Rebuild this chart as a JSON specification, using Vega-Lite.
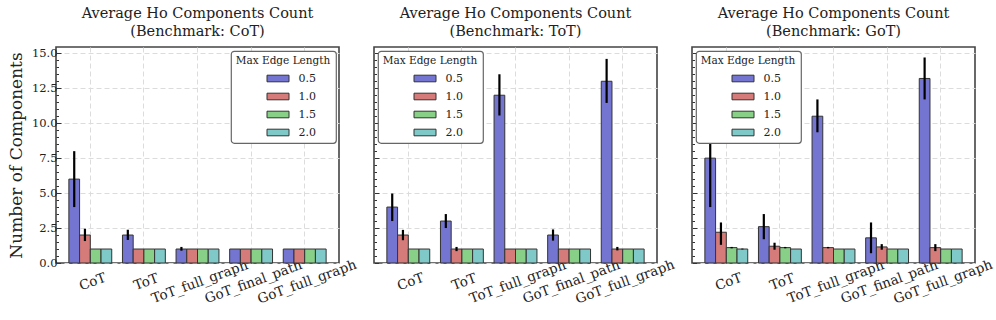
{
  "$schema": "https://vega.github.io/schema/vega-lite/v6.json",
  "autosize": {"type": "pad"},
  "padding": {"left": 6, "top": 4, "right": 5, "bottom": 5},
  "bounds": "flush",
  "spacing": 35,
  "config": {
    "font": "DejaVu Serif",
    "view": {"stroke": "#444", "strokeWidth": 1.6},
    "title": {"fontSize": 14.5, "fontWeight": "normal", "color": "#222", "offset": 8, "lineHeight": 18},
    "axis": {"domain": false, "gridColor": "#dcdcdc", "gridDash": [5, 3], "gridWidth": 1, "tickColor": "#333", "labelColor": "#222", "labelFontSize": 11.5, "titleFontWeight": "normal", "titleColor": "#222"},
    "axisX": {"title": null, "tickSize": -4, "labelAngle": -20, "labelAlign": "center", "labelBaseline": "top", "labelFontSize": 13.5, "labelPadding": 16, "grid": true},
    "legend": {
      "offset": 3.5, "padding": 5, "fillColor": "white", "strokeColor": "#666", "strokeWidth": 1.2, "cornerRadius": 3,
      "titleFontSize": 10.5, "titleFontWeight": "normal", "titleAnchor": "middle", "titleColor": "#222", "titlePadding": 6,
      "labelFontSize": 11, "labelColor": "#222", "labelOffset": 14.5,
      "symbolType": "M-2,-0.6L2,-0.6L2,0.6L-2,0.6Z", "symbolSize": 121, "symbolStrokeColor": "#333", "symbolStrokeWidth": 1, "symbolOpacity": 1, "symbolOffset": 21, "rowPadding": 6
    }
  },
  "data": {"values": [
    {"bench": "CoT", "method": "CoT", "edge": "0.5", "value": 6.0, "lo": 4.0, "hi": 8.0},
    {"bench": "CoT", "method": "CoT", "edge": "1.0", "value": 2.0, "lo": 1.57, "hi": 2.45},
    {"bench": "CoT", "method": "CoT", "edge": "1.5", "value": 1.0, "lo": 1.0, "hi": 1.0},
    {"bench": "CoT", "method": "CoT", "edge": "2.0", "value": 1.0, "lo": 1.0, "hi": 1.0},
    {"bench": "CoT", "method": "ToT", "edge": "0.5", "value": 2.0, "lo": 1.65, "hi": 2.38},
    {"bench": "CoT", "method": "ToT", "edge": "1.0", "value": 1.0, "lo": 1.0, "hi": 1.0},
    {"bench": "CoT", "method": "ToT", "edge": "1.5", "value": 1.0, "lo": 1.0, "hi": 1.0},
    {"bench": "CoT", "method": "ToT", "edge": "2.0", "value": 1.0, "lo": 1.0, "hi": 1.0},
    {"bench": "CoT", "method": "ToT_full_graph", "edge": "0.5", "value": 1.0, "lo": 0.88, "hi": 1.15},
    {"bench": "CoT", "method": "ToT_full_graph", "edge": "1.0", "value": 1.0, "lo": 1.0, "hi": 1.0},
    {"bench": "CoT", "method": "ToT_full_graph", "edge": "1.5", "value": 1.0, "lo": 1.0, "hi": 1.0},
    {"bench": "CoT", "method": "ToT_full_graph", "edge": "2.0", "value": 1.0, "lo": 1.0, "hi": 1.0},
    {"bench": "CoT", "method": "GoT_final_path", "edge": "0.5", "value": 1.0, "lo": 1.0, "hi": 1.0},
    {"bench": "CoT", "method": "GoT_final_path", "edge": "1.0", "value": 1.0, "lo": 1.0, "hi": 1.0},
    {"bench": "CoT", "method": "GoT_final_path", "edge": "1.5", "value": 1.0, "lo": 1.0, "hi": 1.0},
    {"bench": "CoT", "method": "GoT_final_path", "edge": "2.0", "value": 1.0, "lo": 1.0, "hi": 1.0},
    {"bench": "CoT", "method": "GoT_full_graph", "edge": "0.5", "value": 1.0, "lo": 1.0, "hi": 1.0},
    {"bench": "CoT", "method": "GoT_full_graph", "edge": "1.0", "value": 1.0, "lo": 1.0, "hi": 1.0},
    {"bench": "CoT", "method": "GoT_full_graph", "edge": "1.5", "value": 1.0, "lo": 1.0, "hi": 1.0},
    {"bench": "CoT", "method": "GoT_full_graph", "edge": "2.0", "value": 1.0, "lo": 1.0, "hi": 1.0},

    {"bench": "ToT", "method": "CoT", "edge": "0.5", "value": 4.0, "lo": 3.0, "hi": 4.97},
    {"bench": "ToT", "method": "CoT", "edge": "1.0", "value": 2.0, "lo": 1.63, "hi": 2.37},
    {"bench": "ToT", "method": "CoT", "edge": "1.5", "value": 1.0, "lo": 1.0, "hi": 1.0},
    {"bench": "ToT", "method": "CoT", "edge": "2.0", "value": 1.0, "lo": 1.0, "hi": 1.0},
    {"bench": "ToT", "method": "ToT", "edge": "0.5", "value": 3.0, "lo": 2.5, "hi": 3.5},
    {"bench": "ToT", "method": "ToT", "edge": "1.0", "value": 1.0, "lo": 0.85, "hi": 1.15},
    {"bench": "ToT", "method": "ToT", "edge": "1.5", "value": 1.0, "lo": 1.0, "hi": 1.0},
    {"bench": "ToT", "method": "ToT", "edge": "2.0", "value": 1.0, "lo": 1.0, "hi": 1.0},
    {"bench": "ToT", "method": "ToT_full_graph", "edge": "0.5", "value": 12.0, "lo": 10.55, "hi": 13.5},
    {"bench": "ToT", "method": "ToT_full_graph", "edge": "1.0", "value": 1.0, "lo": 1.0, "hi": 1.0},
    {"bench": "ToT", "method": "ToT_full_graph", "edge": "1.5", "value": 1.0, "lo": 1.0, "hi": 1.0},
    {"bench": "ToT", "method": "ToT_full_graph", "edge": "2.0", "value": 1.0, "lo": 1.0, "hi": 1.0},
    {"bench": "ToT", "method": "GoT_final_path", "edge": "0.5", "value": 2.0, "lo": 1.6, "hi": 2.4},
    {"bench": "ToT", "method": "GoT_final_path", "edge": "1.0", "value": 1.0, "lo": 1.0, "hi": 1.0},
    {"bench": "ToT", "method": "GoT_final_path", "edge": "1.5", "value": 1.0, "lo": 1.0, "hi": 1.0},
    {"bench": "ToT", "method": "GoT_final_path", "edge": "2.0", "value": 1.0, "lo": 1.0, "hi": 1.0},
    {"bench": "ToT", "method": "GoT_full_graph", "edge": "0.5", "value": 13.0, "lo": 11.45, "hi": 14.6},
    {"bench": "ToT", "method": "GoT_full_graph", "edge": "1.0", "value": 1.0, "lo": 0.9, "hi": 1.15},
    {"bench": "ToT", "method": "GoT_full_graph", "edge": "1.5", "value": 1.0, "lo": 1.0, "hi": 1.0},
    {"bench": "ToT", "method": "GoT_full_graph", "edge": "2.0", "value": 1.0, "lo": 1.0, "hi": 1.0},

    {"bench": "GoT", "method": "CoT", "edge": "0.5", "value": 7.5, "lo": 4.0, "hi": 11.0},
    {"bench": "GoT", "method": "CoT", "edge": "1.0", "value": 2.2, "lo": 1.3, "hi": 2.9},
    {"bench": "GoT", "method": "CoT", "edge": "1.5", "value": 1.1, "lo": 1.05, "hi": 1.15},
    {"bench": "GoT", "method": "CoT", "edge": "2.0", "value": 1.0, "lo": 0.97, "hi": 1.03},
    {"bench": "GoT", "method": "ToT", "edge": "0.5", "value": 2.6, "lo": 1.7, "hi": 3.5},
    {"bench": "GoT", "method": "ToT", "edge": "1.0", "value": 1.2, "lo": 0.95, "hi": 1.45},
    {"bench": "GoT", "method": "ToT", "edge": "1.5", "value": 1.1, "lo": 1.05, "hi": 1.15},
    {"bench": "GoT", "method": "ToT", "edge": "2.0", "value": 1.0, "lo": 1.0, "hi": 1.0},
    {"bench": "GoT", "method": "ToT_full_graph", "edge": "0.5", "value": 10.5, "lo": 9.35, "hi": 11.7},
    {"bench": "GoT", "method": "ToT_full_graph", "edge": "1.0", "value": 1.1, "lo": 1.05, "hi": 1.15},
    {"bench": "GoT", "method": "ToT_full_graph", "edge": "1.5", "value": 1.0, "lo": 1.0, "hi": 1.0},
    {"bench": "GoT", "method": "ToT_full_graph", "edge": "2.0", "value": 1.0, "lo": 1.0, "hi": 1.0},
    {"bench": "GoT", "method": "GoT_final_path", "edge": "0.5", "value": 1.8, "lo": 0.7, "hi": 2.9},
    {"bench": "GoT", "method": "GoT_final_path", "edge": "1.0", "value": 1.15, "lo": 0.95, "hi": 1.35},
    {"bench": "GoT", "method": "GoT_final_path", "edge": "1.5", "value": 1.0, "lo": 1.0, "hi": 1.0},
    {"bench": "GoT", "method": "GoT_final_path", "edge": "2.0", "value": 1.0, "lo": 1.0, "hi": 1.0},
    {"bench": "GoT", "method": "GoT_full_graph", "edge": "0.5", "value": 13.2, "lo": 11.7, "hi": 14.7},
    {"bench": "GoT", "method": "GoT_full_graph", "edge": "1.0", "value": 1.1, "lo": 0.85, "hi": 1.35},
    {"bench": "GoT", "method": "GoT_full_graph", "edge": "1.5", "value": 1.0, "lo": 1.0, "hi": 1.0},
    {"bench": "GoT", "method": "GoT_full_graph", "edge": "2.0", "value": 1.0, "lo": 1.0, "hi": 1.0}
  ]},
  "resolve": {"scale": {"color": "independent"}, "legend": {"color": "independent"}},
  "hconcat": [
    {
      "width": 283, "height": 216,
      "title": {"text": ["Average Ho Components Count", "(Benchmark: CoT)"]},
      "transform": [{"filter": "datum.bench === 'CoT'"}],
      "encoding": {
        "x": {"field": "method", "type": "nominal", "sort": ["CoT", "ToT", "ToT_full_graph", "GoT_final_path", "GoT_full_graph"], "scale": {"paddingInner": 0.2, "paddingOuter": 0.24}},
        "xOffset": {"field": "edge", "type": "nominal", "sort": ["0.5", "1.0", "1.5", "2.0"]}
      },
      "layer": [
        {"mark": {"type": "bar", "stroke": "#333", "strokeWidth": 1},
         "encoding": {
           "y": {"field": "value", "type": "quantitative", "scale": {"domain": [0, 15.45], "nice": false}, "axis": {"title": "Number of Components", "titleFontSize": 17, "titlePadding": 6, "values": [0,0.5,1,1.5,2,2.5,3,3.5,4,4.5,5,5.5,6,6.5,7,7.5,8,8.5,9,9.5,10,10.5,11,11.5,12,12.5,13,13.5,14,14.5,15], "labelExpr": "datum.value % 2.5 === 0 ? format(datum.value, '.1f') : ''", "tickSize": {"condition": {"test": "datum.value % 2.5 === 0", "value": -5}, "value": -2.5}, "gridOpacity": {"condition": {"test": "datum.value % 2.5 === 0", "value": 1}, "value": 0}, "labelPadding": 4}},
           "color": {"field": "edge", "type": "nominal", "scale": {"domain": ["0.5", "1.0", "1.5", "2.0"], "range": ["#7475d0", "#d57b79", "#88cf87", "#7fc9c9"]}, "legend": {"title": "Max Edge Length", "orient": "top-right"}}
         }},
        {"mark": {"type": "rule", "color": "black", "strokeWidth": 2.2},
         "encoding": {"y": {"field": "lo", "type": "quantitative", "scale": {"domain": [0, 15.45], "nice": false}, "axis": {"title": "Number of Components", "titleFontSize": 17, "titlePadding": 6, "values": [0,0.5,1,1.5,2,2.5,3,3.5,4,4.5,5,5.5,6,6.5,7,7.5,8,8.5,9,9.5,10,10.5,11,11.5,12,12.5,13,13.5,14,14.5,15], "labelExpr": "datum.value % 2.5 === 0 ? format(datum.value, '.1f') : ''", "tickSize": {"condition": {"test": "datum.value % 2.5 === 0", "value": -5}, "value": -2.5}, "gridOpacity": {"condition": {"test": "datum.value % 2.5 === 0", "value": 1}, "value": 0}, "labelPadding": 4}}, "y2": {"field": "hi"}}}
      ]
    },
    {
      "width": 283, "height": 216,
      "title": {"text": ["Average Ho Components Count", "(Benchmark: ToT)"]},
      "transform": [{"filter": "datum.bench === 'ToT'"}],
      "encoding": {
        "x": {"field": "method", "type": "nominal", "sort": ["CoT", "ToT", "ToT_full_graph", "GoT_final_path", "GoT_full_graph"], "scale": {"paddingInner": 0.2, "paddingOuter": 0.24}},
        "xOffset": {"field": "edge", "type": "nominal", "sort": ["0.5", "1.0", "1.5", "2.0"]}
      },
      "layer": [
        {"mark": {"type": "bar", "stroke": "#333", "strokeWidth": 1},
         "encoding": {
           "y": {"field": "value", "type": "quantitative", "scale": {"domain": [0, 15.45], "nice": false}, "axis": {"title": null, "labels": false, "values": [0,0.5,1,1.5,2,2.5,3,3.5,4,4.5,5,5.5,6,6.5,7,7.5,8,8.5,9,9.5,10,10.5,11,11.5,12,12.5,13,13.5,14,14.5,15], "tickSize": {"condition": {"test": "datum.value % 2.5 === 0", "value": -5}, "value": -2.5}, "gridOpacity": {"condition": {"test": "datum.value % 2.5 === 0", "value": 1}, "value": 0}}},
           "color": {"field": "edge", "type": "nominal", "scale": {"domain": ["0.5", "1.0", "1.5", "2.0"], "range": ["#7475d0", "#d57b79", "#88cf87", "#7fc9c9"]}, "legend": {"title": "Max Edge Length", "orient": "top-left"}}
         }},
        {"mark": {"type": "rule", "color": "black", "strokeWidth": 2.2},
         "encoding": {"y": {"field": "lo", "type": "quantitative", "scale": {"domain": [0, 15.45], "nice": false}, "axis": {"title": null, "labels": false, "values": [0,0.5,1,1.5,2,2.5,3,3.5,4,4.5,5,5.5,6,6.5,7,7.5,8,8.5,9,9.5,10,10.5,11,11.5,12,12.5,13,13.5,14,14.5,15], "tickSize": {"condition": {"test": "datum.value % 2.5 === 0", "value": -5}, "value": -2.5}, "gridOpacity": {"condition": {"test": "datum.value % 2.5 === 0", "value": 1}, "value": 0}}}, "y2": {"field": "hi"}}}
      ]
    },
    {
      "width": 283, "height": 216,
      "title": {"text": ["Average Ho Components Count", "(Benchmark: GoT)"]},
      "transform": [{"filter": "datum.bench === 'GoT'"}],
      "encoding": {
        "x": {"field": "method", "type": "nominal", "sort": ["CoT", "ToT", "ToT_full_graph", "GoT_final_path", "GoT_full_graph"], "scale": {"paddingInner": 0.2, "paddingOuter": 0.24}},
        "xOffset": {"field": "edge", "type": "nominal", "sort": ["0.5", "1.0", "1.5", "2.0"]}
      },
      "layer": [
        {"mark": {"type": "bar", "stroke": "#333", "strokeWidth": 1},
         "encoding": {
           "y": {"field": "value", "type": "quantitative", "scale": {"domain": [0, 15.45], "nice": false}, "axis": {"title": null, "labels": false, "values": [0,0.5,1,1.5,2,2.5,3,3.5,4,4.5,5,5.5,6,6.5,7,7.5,8,8.5,9,9.5,10,10.5,11,11.5,12,12.5,13,13.5,14,14.5,15], "tickSize": {"condition": {"test": "datum.value % 2.5 === 0", "value": -5}, "value": -2.5}, "gridOpacity": {"condition": {"test": "datum.value % 2.5 === 0", "value": 1}, "value": 0}}},
           "color": {"field": "edge", "type": "nominal", "scale": {"domain": ["0.5", "1.0", "1.5", "2.0"], "range": ["#7475d0", "#d57b79", "#88cf87", "#7fc9c9"]}, "legend": {"title": "Max Edge Length", "orient": "top-left"}}
         }},
        {"mark": {"type": "rule", "color": "black", "strokeWidth": 2.2},
         "encoding": {"y": {"field": "lo", "type": "quantitative", "scale": {"domain": [0, 15.45], "nice": false}, "axis": {"title": null, "labels": false, "values": [0,0.5,1,1.5,2,2.5,3,3.5,4,4.5,5,5.5,6,6.5,7,7.5,8,8.5,9,9.5,10,10.5,11,11.5,12,12.5,13,13.5,14,14.5,15], "tickSize": {"condition": {"test": "datum.value % 2.5 === 0", "value": -5}, "value": -2.5}, "gridOpacity": {"condition": {"test": "datum.value % 2.5 === 0", "value": 1}, "value": 0}}}, "y2": {"field": "hi"}}}
      ]
    }
  ]
}
